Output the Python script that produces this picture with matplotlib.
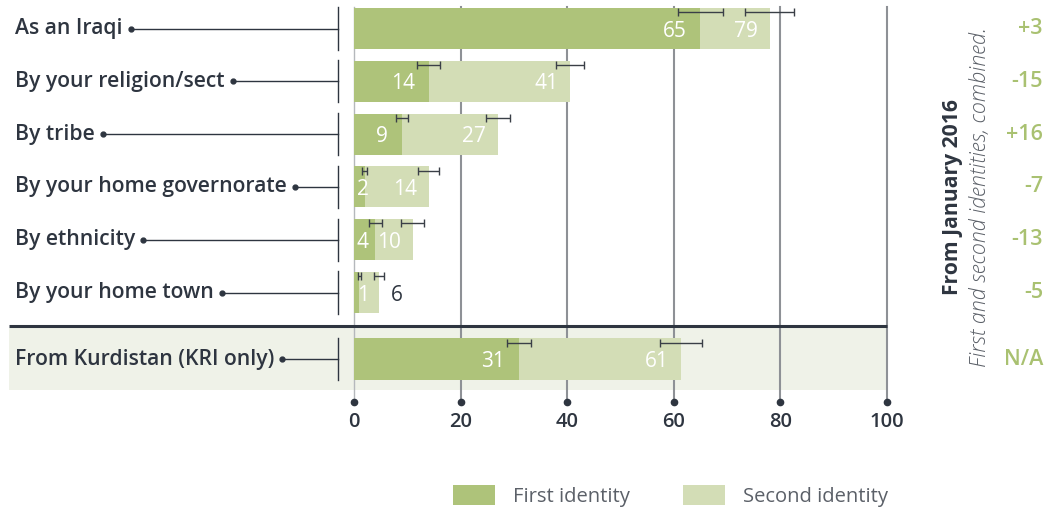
import matplotlib.pyplot as plt
from matplotlib.patches import Patch, Rectangle

# data
rows = ["As an Iraqi", "By your religion/sect", "By tribe", "By your home governorate",
        "By ethnicity", "By your home town", "From Kurdistan (KRI only)"]
first = [65, 14, 9, 2, 4, 1, 31]
combined = [78, 40.5, 27, 14, 11, 4.7, 61.3]
first_lbl = ["65", "14", "9", "2", "4", "1", "31"]
comb_lbl = ["79", "41", "27", "14", "10", "6", "61"]
first_err = [4.2, 2.1, 1.1, 0.5, 1.2, 0.3, 2.3]
comb_err = [4.6, 2.6, 2.2, 2.0, 2.2, 1.0, 3.9]
change = ["+3", "-15", "+16", "-7", "-13", "-5", "N/A"]
ticks = [0, 20, 40, 60, 80, 100]

DARK = '#aec37a'
LIGHT = '#d3ddb6'
BG = '#eff2e8'
TXT = '#2e3540'
GRID = '#8e9196'
CHG = '#a9c171'

plt.rcParams['font.family'] = ['Open Sans', 'DejaVu Sans']

fig = plt.figure(figsize=(10.46, 5.09), dpi=100)
ax = fig.add_axes([0, 0, 1, 1])
ax.axis('off')

# pixel mapping: x=354px -> 0, 5.33 px / unit ; y=28.5px -> row 0, 52.8 px / row
pxx = 5.33
pxy = 52.8
ax.set_xlim(-354 / pxx, (1046 - 354) / pxx)
ax.set_ylim((509 - 28.5) / pxy, -28.5 / pxy)

ypos = [0, 1, 2, 3, 4, 5, 6.26]
h = 0.78

# background of Kurdistan row + separator
ax.add_patch(Rectangle((-345 / pxx, 5.67), (887 - 9) / pxx, 1.17, fc=BG, ec='none', zorder=0))
ax.plot([-345 / pxx, 100], [5.63, 5.63], color=TXT, lw=2.2, zorder=4, solid_capstyle='butt')

# gridlines
ytop = -21.5 / pxy
ybot = 7.07
for t in ticks:
    if t == 0:
        ax.plot([t, t], [ytop, ybot], color='#b5b8bc', lw=1, zorder=1)
    else:
        ax.plot([t, t], [ytop, ybot], color=GRID, lw=1.5, zorder=1)
    ax.plot(t, ybot, 'o', color=TXT, ms=4.5, zorder=5)
    ax.text(t, ybot + 0.38, str(t), ha='center', va='center', fontsize=14.5,
            fontweight='semibold', color=TXT)

# bars
ax.barh(ypos, combined, height=h, color=LIGHT, zorder=2)
ax.barh(ypos, first, height=h, color=DARK, zorder=3)

# error bars near the top of each bar
yerr = [y - 0.31 for y in ypos]
ax.errorbar(first, yerr, xerr=first_err, fmt='none', ecolor='#3a3f47', elinewidth=1,
            capsize=3, capthick=1, zorder=6)
ax.errorbar(combined, yerr, xerr=comb_err, fmt='none', ecolor='#3a3f47', elinewidth=1,
            capsize=3, capthick=1, zorder=6)

# value labels
for y, f, c, fl, cl in zip(ypos, first, combined, first_lbl, comb_lbl):
    if f >= 5:
        ax.text(f - 2.6, y + 0.05, fl, ha='right', va='center', color='white', fontsize=15, zorder=7)
    else:
        ax.text(0.5, y + 0.05, fl, ha='left', va='center', color='white', fontsize=15, zorder=7)
    if c >= 6:
        ax.text(c - 2.2, y + 0.05, cl, ha='right', va='center', color='white', fontsize=15, zorder=7)
    else:
        ax.text(c + 2.2, y + 0.05, cl, ha='left', va='center', color=TXT, fontsize=15, zorder=7)

# row labels with connectors
fig.canvas.draw()
r = fig.canvas.get_renderer()
inv = ax.transData.inverted()
for y, name in zip(ypos, rows):
    t = ax.text(-339 / pxx, y, name, ha='left', va='center', fontsize=15.2,
                fontweight='semibold', color=TXT)
    bb = t.get_window_extent(renderer=r)
    xend = inv.transform((bb.x1 + 8, 0))[0]
    ax.plot(xend, y, 'o', color=TXT, ms=3.5, zorder=5)
    ax.plot([xend, -3], [y, y], color=TXT, lw=1, zorder=5)
    ax.plot([-3, -3], [y - 0.4, y + 0.4], color=TXT, lw=1, zorder=5)

# change column
for y, c in zip(ypos, change):
    ax.text(1043 / pxx - 354 / pxx, y, c, ha='right', va='center', fontsize=15.5,
            fontweight='semibold', color=CHG)

xr = (953 - 354) / pxx
ax.text(xr, 3.2, "From January 2016", rotation=90, ha='center', va='center', fontsize=15.2,
        fontweight='bold', color=TXT)
ax.text((980 - 354) / pxx, 3.2, "First and second identities, combined.", rotation=90,
        ha='center', va='center', fontsize=15.5, fontstyle='italic', fontweight='light', color='#5b6068')

# legend
handles = [Patch(fc=DARK, ec='none'), Patch(fc=LIGHT, ec='none')]
fig.legend(handles, ["First identity", "Second identity"], loc='center', ncol=2,
           bbox_to_anchor=(0.641, 0.025), frameon=False, fontsize=14.5,
           handlelength=2.1, handleheight=1.15, handletextpad=0.9, columnspacing=2.6,
           labelcolor='#5b6068')

fig.savefig('out.png', dpi=100)
